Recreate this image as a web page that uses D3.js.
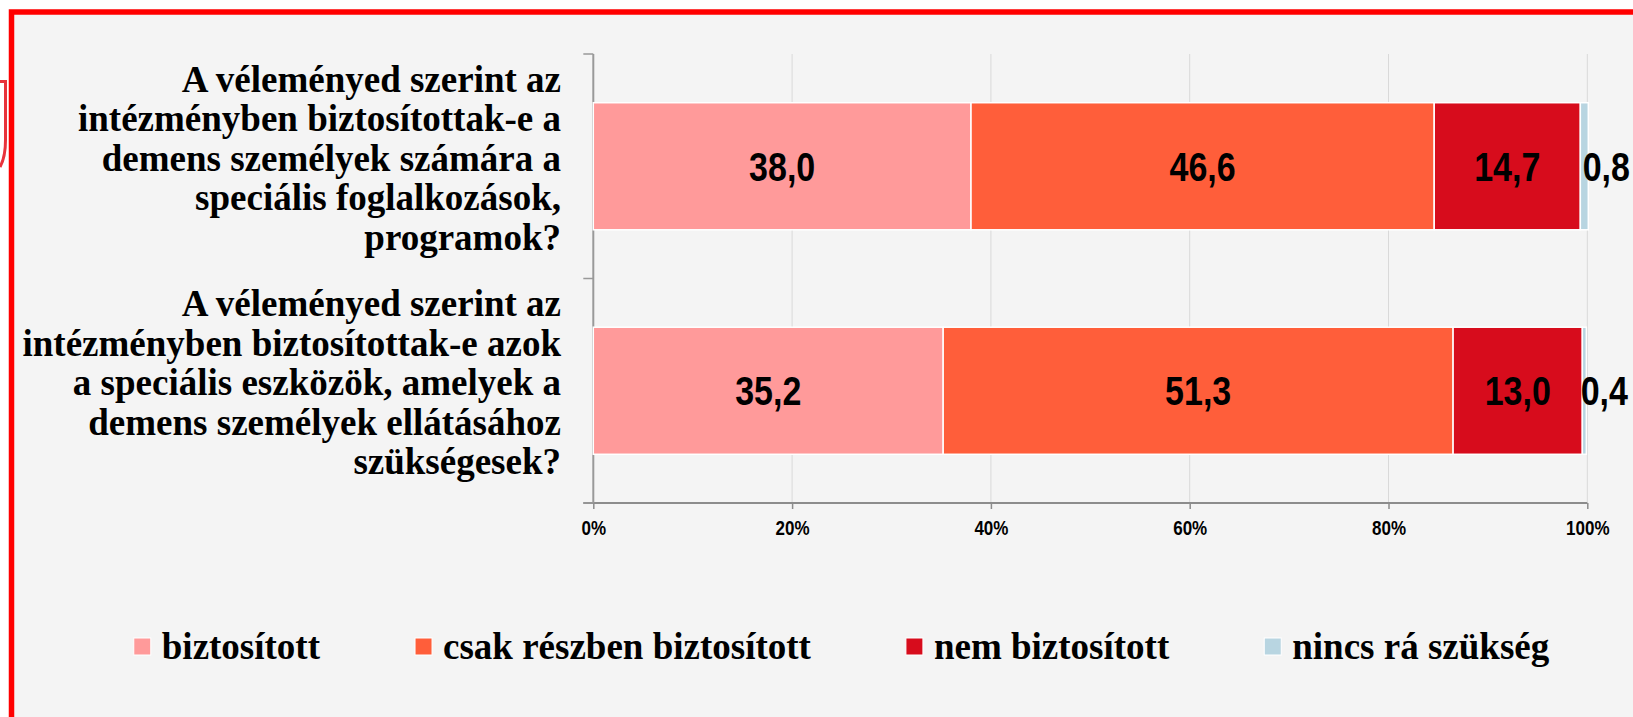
<!DOCTYPE html>
<meta charset="utf-8">
<style>
  body { margin: 0; background: #fff; }
  svg { display: block; }
  .cat {
    font-family: "Liberation Serif", "Times New Roman", serif;
    font-weight: bold;
    font-size: 37px;
    fill: #000;
  }
  .lbl {
    font-family: "Liberation Sans", Arial, sans-serif;
    font-weight: bold;
    font-size: 40px;
    fill: #000;
  }
  .x-axis text {
    font-family: "Liberation Sans", Arial, sans-serif;
    font-weight: bold;
    font-size: 20px;
    fill: #000;
  }
  .legend text {
    font-family: "Liberation Serif", "Times New Roman", serif;
    font-weight: bold;
    font-size: 37px;
    fill: #000;
  }
</style>
<body>
<div id="chart"></div>
<script src="https://d3js.org/d3.v7.min.js"></script>
<script>
// questions, already broken into lines like the original
var questions = [
  ['A véleményed szerint az', 'intézményben biztosítottak-e a', 'demens személyek számára a', 'speciális foglalkozások,', 'programok?'],
  ['A véleményed szerint az', 'intézményben biztosítottak-e azok', 'a speciális eszközök, amelyek a', 'demens személyek ellátásához', 'szükségesek?']
];
var series = ['biztosított', 'csak részben biztosított', 'nem biztosított', 'nincs rá szükség'];
var colors = ['#ff9a9a', '#ff5e3a', '#d70c1c', '#b8d5e1'];

var biztositott = [38.0, 35.2];
var reszben = [46.6, 51.3];
var nemBiztositott = [14.7, 13.0];
var nincs = [0.8, 0.4];

var ticks = [0, 20, 40, 60, 80, 100];

var width = 1633;
var height = 717;

var svg = d3.select('#chart').append('svg')
    .attr('width', width)
    .attr('height', height);

// frame
svg.append('path')
    .attr('d', 'M0,81.5 H5.5 V140 Q5.5,157 0,167')
    .attr('fill', 'none')
    .attr('stroke', '#e8333c')
    .attr('stroke-width', 3);

svg.append('rect')
    .attr('x', 11.5).attr('y', 12)
    .attr('width', width).attr('height', height)
    .attr('fill', '#f4f4f4')
    .attr('stroke', '#ff0000')
    .attr('stroke-width', 5.5);

var rows = questions.map(function (q, i) {
  return {
    i: i,
    'biztosított': biztositott[i],
    'csak részben biztosított': reszben[i],
    'nem biztosított': nemBiztositott[i],
    'nincs rá szükség': nincs[i]
  };
});

var stacked = d3.stack().keys(series)(rows);

var x = d3.scaleLinear()
    .domain([0, 100])
    .range([593.3, 1587.3]);

var y = d3.scaleBand()
    .domain(d3.range(questions.length))
    .range([54, 503])
    .paddingInner(0.434)
    .paddingOuter(0.217);

var color = d3.scaleOrdinal().domain(series).range(colors);

// gridlines
svg.append('g')
  .selectAll('line')
    .data(ticks.slice(1))
    .enter().append('line')
    .attr('x1', function (d) { return x(d); })
    .attr('x2', function (d) { return x(d); })
    .attr('y1', y.range()[0])
    .attr('y2', y.range()[1])
    .attr('stroke', '#d9d9d9')
    .attr('stroke-width', 1);

// x axis
var xAxis = svg.append('g')
    .attr('class', 'x-axis')
    .attr('transform', 'translate(0,' + y.range()[1] + ')')
    .call(d3.axisBottom(x)
      .tickValues(ticks)
      .tickFormat(function (d) { return d + '%'; })
      .tickSize(6)
      .tickPadding(12));

xAxis.select('.domain').remove();
xAxis.selectAll('.tick line').attr('stroke', '#8c8c8c').attr('stroke-width', 1.5);
xAxis.selectAll('.tick text').attr('transform', 'scale(0.85,1)');
xAxis.append('line')
    .attr('x1', x(0) - 10).attr('x2', x(100))
    .attr('stroke', '#8c8c8c')
    .attr('stroke-width', 2);

// y axis, ticks between the categories
var yAxis = svg.append('g');
yAxis.append('line')
    .attr('x1', x(0)).attr('x2', x(0))
    .attr('y1', y.range()[0]).attr('y2', y.range()[1])
    .attr('stroke', '#999')
    .attr('stroke-width', 2);
yAxis.selectAll('.ytick')
    .data(d3.range(questions.length + 1))
    .enter().append('line')
    .attr('x1', x(0) - 10).attr('x2', x(0))
    .attr('y1', function (d) { return y.range()[0] + d * y.step(); })
    .attr('y2', function (d) { return y.range()[0] + d * y.step(); })
    .attr('stroke', '#999')
    .attr('stroke-width', 1.5);

// bars
var layer = svg.append('g')
  .selectAll('g')
    .data(stacked)
    .enter().append('g')
    .attr('fill', function (d) { return color(d.key); });

layer.selectAll('rect')
    .data(function (d) { return d; })
    .enter().append('rect')
    .attr('x', function (d) { return x(d[0]); })
    .attr('y', function (d) { return y(d.data.i); })
    .attr('width', function (d) { return x(d[1]) - x(d[0]); })
    .attr('height', y.bandwidth())
    .attr('stroke', '#fff')
    .attr('stroke-width', 1.5);

// value labels
layer.selectAll('text')
    .data(function (d) { return d; })
    .enter().append('text')
    .attr('class', 'lbl')
    .attr('text-anchor', 'middle')
    .attr('transform', function (d) {
      var v = d[1] - d[0];
      var cx = v < 3 ? x(d[1]) + 18 : (x(d[0]) + x(d[1])) / 2;
      var cy = y(d.data.i) + y.bandwidth() / 2 + 14.5;
      return 'translate(' + cx + ',' + cy + ') scale(0.85,1)';
    })
    .text(function (d) { return d3.format('.1f')(d[1] - d[0]).replace('.', ','); });

// category labels
svg.append('g')
  .selectAll('text')
    .data(questions)
    .enter().append('text')
    .attr('class', 'cat')
    .attr('text-anchor', 'end')
    .each(function (lines, i) {
      var top = y(i) + y.bandwidth() / 2 - 74.5;
      d3.select(this).selectAll('tspan')
          .data(lines)
          .enter().append('tspan')
          .attr('x', 561)
          .attr('y', function (d, j) { return top + j * 39.5; })
          .text(function (d) { return d; });
    });

// legend
var legend = svg.append('g').attr('class', 'legend');
var items = legend.selectAll('g')
    .data(series)
    .enter().append('g');

items.append('rect')
    .attr('width', 17).attr('height', 17)
    .attr('y', -21)
    .attr('fill', function (d) { return color(d); })
    .attr('stroke', '#fff')
    .attr('stroke-width', 1);

items.append('text')
    .attr('x', 28)
    .text(function (d) { return d; });

var pos = 0;
items.each(function () {
  var g = d3.select(this);
  g.attr('data-x', pos);
  pos += 28 + g.select('text').node().getComputedTextLength() + 95;
});
var legendW = pos - 95;
var start = 841.5 - legendW / 2;
items.attr('transform', function () {
  return 'translate(' + (start + +d3.select(this).attr('data-x')) + ',659)';
});
</script>
</body>
